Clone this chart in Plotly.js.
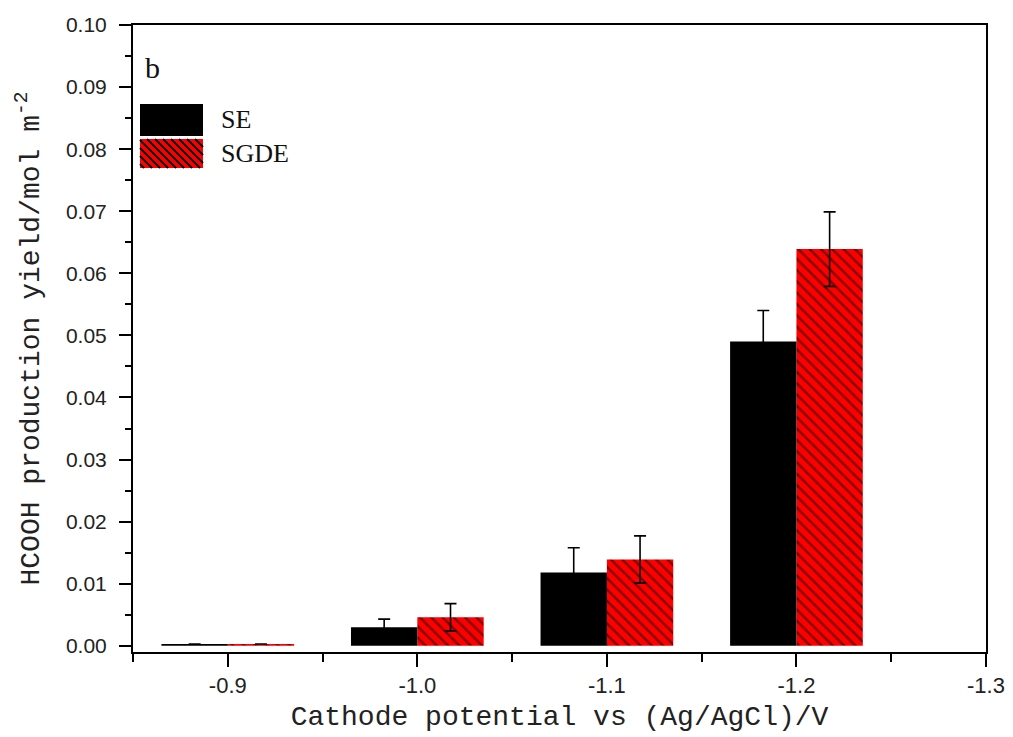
<!DOCTYPE html>
<html>
<head>
<meta charset="utf-8">
<script src="https://cdn.plot.ly/plotly-3.0.1.min.js"></script>
<style>html,body{margin:0;padding:0;background:#fff;}#chart{width:1013px;height:737px;}</style>
</head>
<body>
<div id="chart"></div>
<script>
// ---- data ----
const potentials = [-0.9, -1.0, -1.1, -1.2];
const seValues   = [0.0003, 0.0030, 0.0118, 0.0490];
const seErrors   = [0.0000, 0.0013, 0.0040, 0.0050];
const sgdeValues = [0.0003, 0.0046, 0.0139, 0.0639];
const sgdeErrors = [0.0000, 0.0022, 0.0038, 0.0060];
const xTickVals  = [-0.9, -1.0, -1.1, -1.2, -1.3];
const xTickText  = ["-0.9", "-1.0", "-1.1", "-1.2", "-1.3"];
const seriesNames = ["SE", "SGDE"];

// ---- layout geometry ----
const W = 1013, H = 737;
const M = {l: 133, r: 27, t: 25, b: 85};
const PW = W - M.l - M.r, PH = H - M.t - M.b;
const px = x => (x - M.l) / PW;
const py = y => (H - M.b - y) / PH;

const seTrace = {
  type: 'bar', name: seriesNames[0], x: potentials, y: seValues,
  marker: {color: '#000000', line: {width: 0}},
  error_y: {type: 'data', array: seErrors, visible: true, color: '#000', thickness: 1.6, width: 6},
  showlegend: false
};
const sgdeTrace = {
  type: 'bar', name: seriesNames[1], x: potentials, y: sgdeValues,
  marker: {color: '#ff0000', line: {width: 0},
    pattern: {shape: '\\', fgcolor: '#000000', bgcolor: '#ff0000', size: 8, solidity: 0.3, fillmode: 'overlay'}},
  error_y: {type: 'data', array: sgdeErrors, visible: true, color: '#000', thickness: 1.6, width: 6},
  showlegend: false
};
// x axis is reversed, so the group order is reversed to keep SE on the left
const traces = [sgdeTrace, seTrace];

// custom legend swatches
const shapes = [];
function rectPx(x0, y0, x1, y1, fill) {
  shapes.push({type: 'rect', xref: 'paper', yref: 'paper', x0: px(x0), x1: px(x1), y0: py(y1), y1: py(y0),
    fillcolor: fill, line: {width: 0}, layer: 'above'});
}
rectPx(140, 104, 203, 136, '#000000');
rectPx(140, 139, 203, 168, '#ff0000');
(function hatch(x0, y0, x1, y1, step) {
  for (let c = y0 - x1; c <= y1 - x0; c += step) {
    const xs = Math.max(x0, y0 - c), xe = Math.min(x1, y1 - c);
    if (xe - xs > 1) {
      shapes.push({type: 'line', xref: 'paper', yref: 'paper', x0: px(xs), y0: py(xs + c), x1: px(xe), y1: py(xe + c),
        line: {color: '#000', width: 2}, layer: 'above'});
    }
  }
})(140, 139, 203, 168, 8);

const annotations = [
  {xref: 'paper', yref: 'paper', x: px(219), y: py(120), xanchor: 'left', yanchor: 'middle', showarrow: false,
   text: seriesNames[0], font: {family: 'Liberation Serif', size: 26, color: '#111'}},
  {xref: 'paper', yref: 'paper', x: px(219), y: py(153), xanchor: 'left', yanchor: 'middle', showarrow: false,
   text: seriesNames[1], font: {family: 'Liberation Serif', size: 26, color: '#111'}},
  {xref: 'paper', yref: 'paper', x: px(143), y: py(67), xanchor: 'left', yanchor: 'middle', showarrow: false,
   text: 'b', font: {family: 'Liberation Serif', size: 30, color: '#111'}}
];

const layout = {
  width: W, height: H,
  margin: M,
  paper_bgcolor: '#fff', plot_bgcolor: '#fff',
  barmode: 'group', bargap: 0.3, bargroupgap: 0,
  showlegend: false,
  xaxis: {
    range: [-0.85, -1.3], tickvals: xTickVals, ticktext: xTickText,
    ticks: 'outside', ticklen: 13, tickwidth: 2, tickcolor: '#000',
    minor: {dtick: 0.05, tick0: 0, ticks: 'outside', ticklen: 8, tickwidth: 2, tickcolor: '#000'},
    showline: true, linewidth: 2, linecolor: '#000', mirror: true,
    showgrid: false, zeroline: false,
    tickfont: {family: 'Liberation Sans', size: 22, color: '#222'},
    title: {text: 'Cathode potential vs (Ag/AgCl)/V', standoff: 8,
      font: {family: 'Liberation Mono', size: 28, color: '#222'}}
  },
  yaxis: {
    range: [-0.001, 0.1], dtick: 0.01, tick0: 0, tickformat: '.2f',
    ticks: 'outside', ticklen: 12, tickwidth: 2, tickcolor: '#000', ticklabelstandoff: 8,
    minor: {dtick: 0.005, tick0: 0, ticks: 'outside', ticklen: 6, tickwidth: 2, tickcolor: '#000'},
    showline: true, linewidth: 2, linecolor: '#000', mirror: true,
    showgrid: false, zeroline: false,
    tickfont: {family: 'Liberation Sans', size: 21, color: '#222'},
    title: {text: 'HCOOH production yield/mol m<sup>-2</sup>', standoff: 18,
      font: {family: 'Liberation Mono', size: 28, color: '#222'}}
  },
  shapes: shapes,
  annotations: annotations
};

Plotly.newPlot('chart', traces, layout, {displayModeBar: false, staticPlot: true});
</script>
</body>
</html>
